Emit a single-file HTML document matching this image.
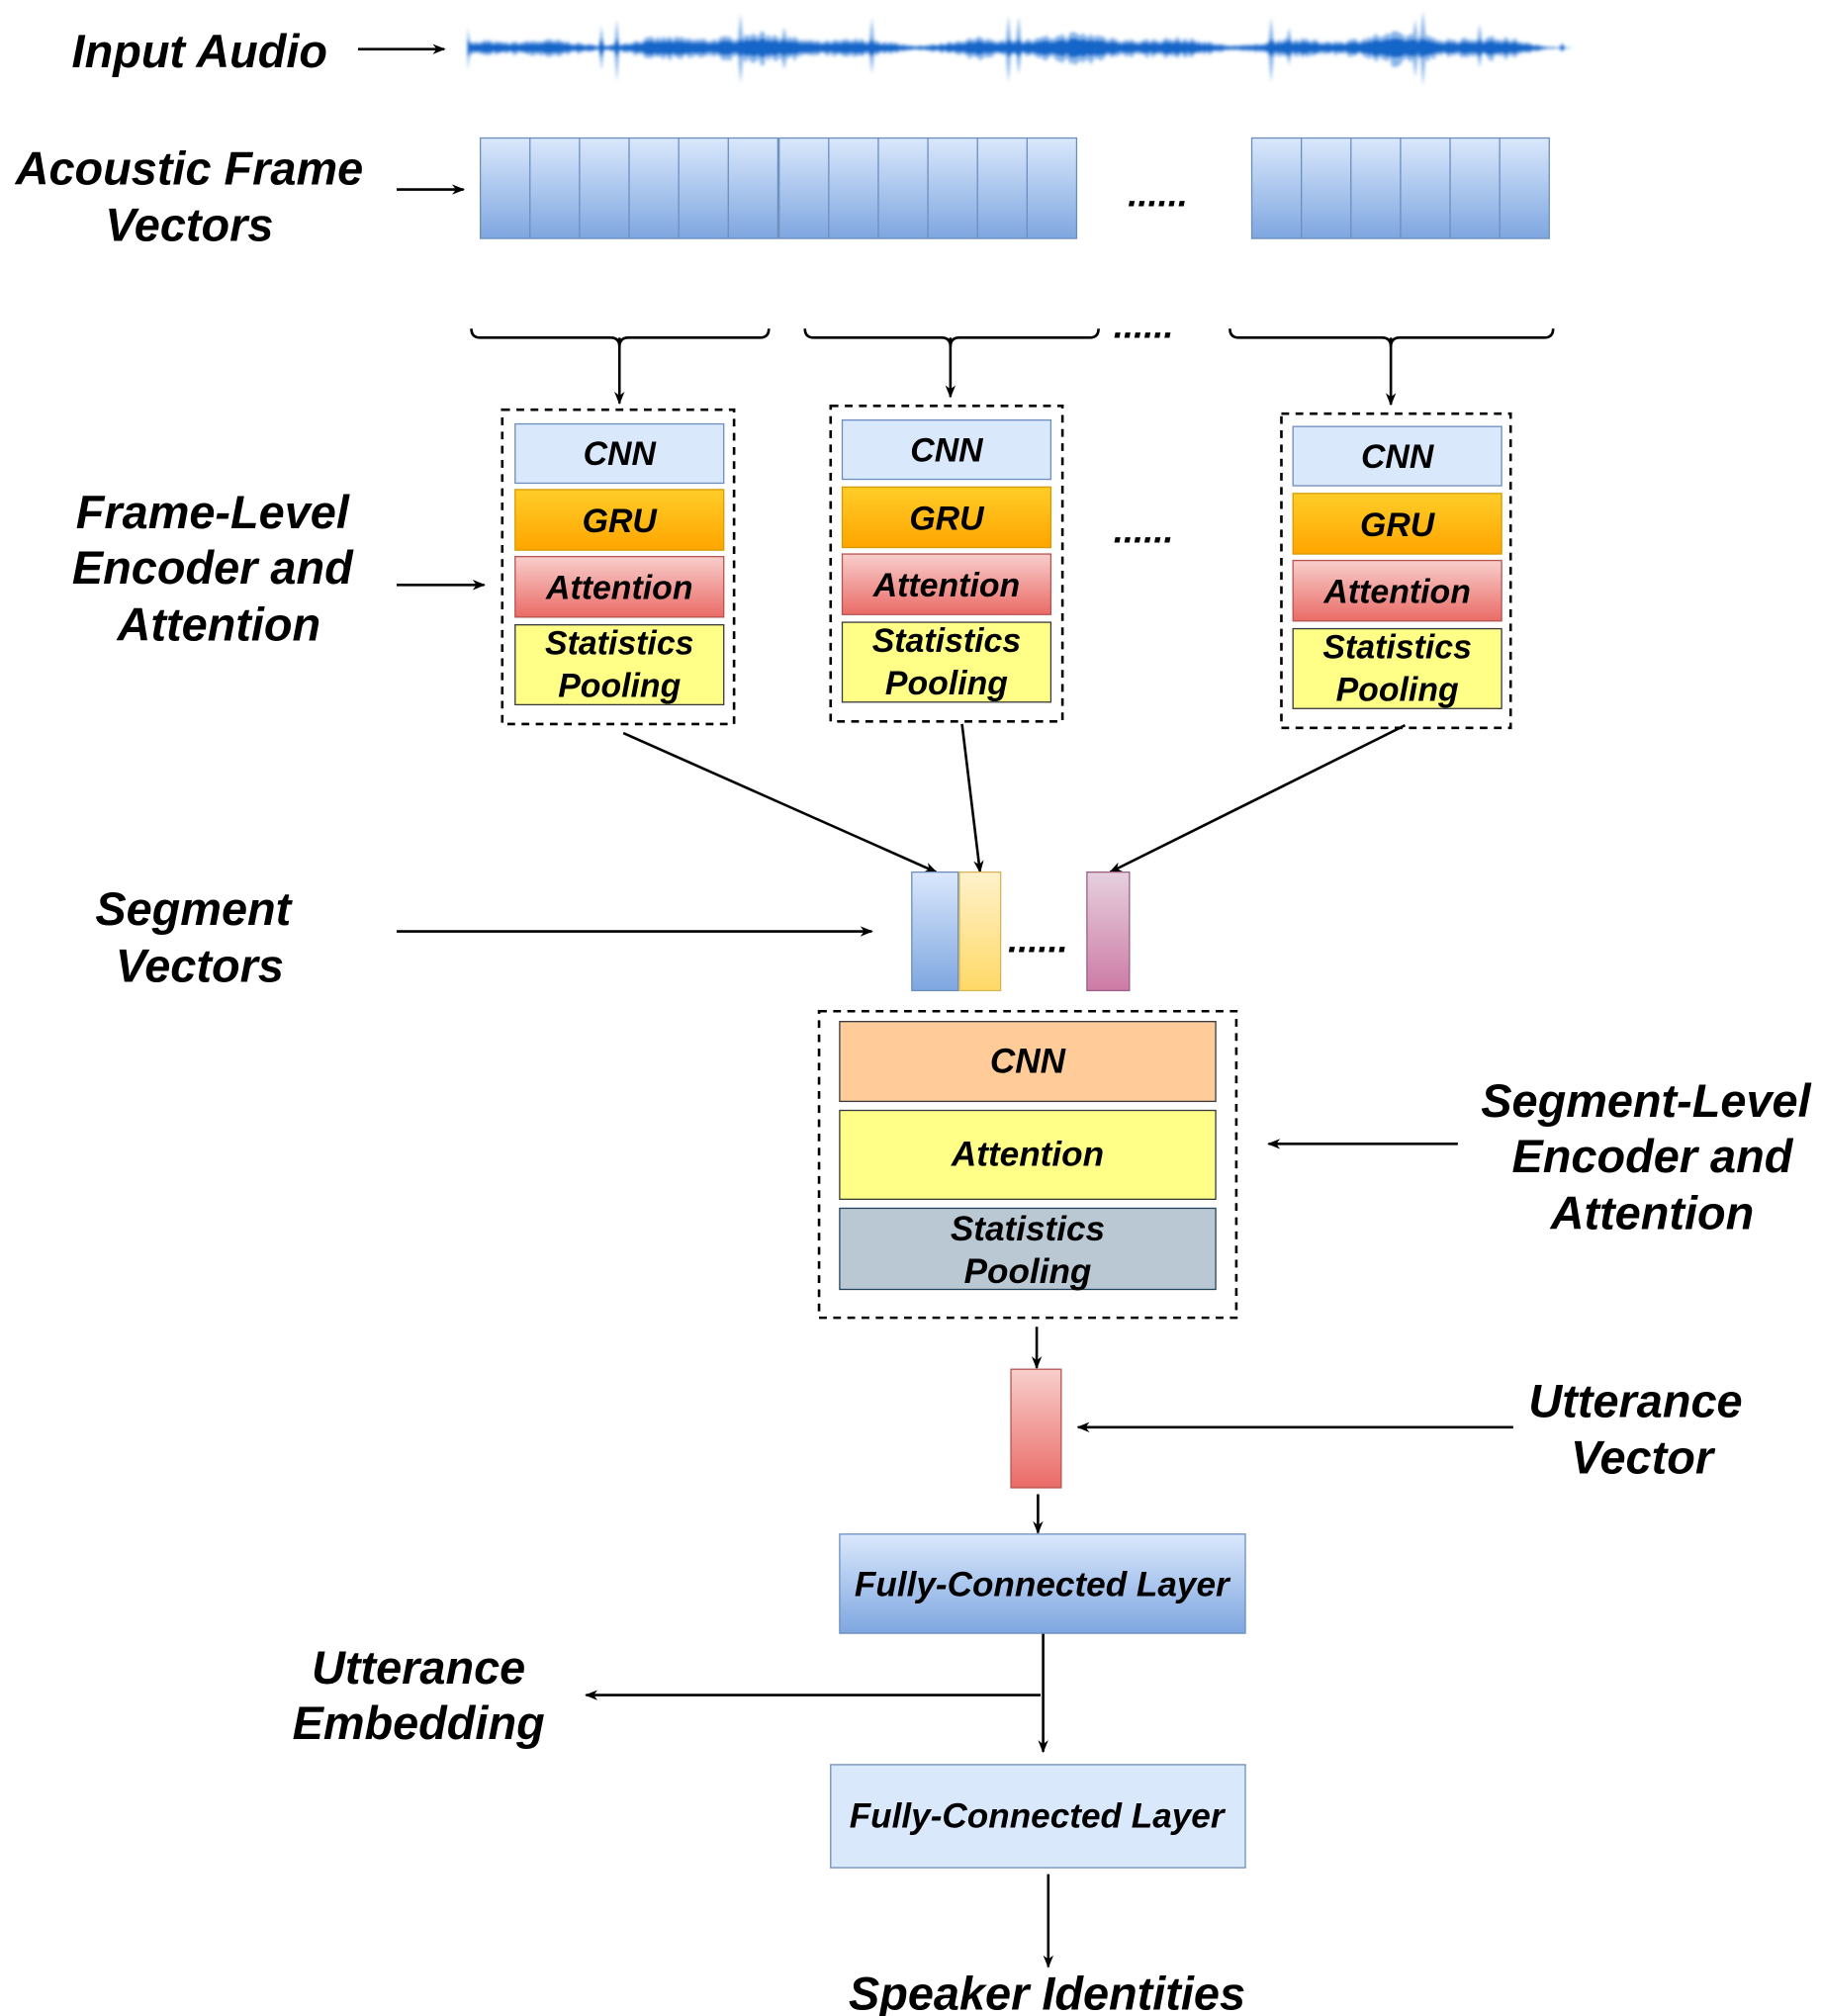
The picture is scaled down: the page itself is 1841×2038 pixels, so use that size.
<!DOCTYPE html>
<html><head><meta charset="utf-8">
<style>
html,body{margin:0;padding:0;background:#fff;}
svg{display:block}
text{font-family:"Liberation Sans",Arial,sans-serif;font-weight:bold;font-style:italic;fill:#000}
</style></head><body>
<svg id="s" width="1841" height="2038" viewBox="0 0 1414 1565" xmlns="http://www.w3.org/2000/svg">
<defs>
<linearGradient id="gb" x1="0" y1="0" x2="0" y2="1"><stop offset="0" stop-color="#dae8fc"/><stop offset="1" stop-color="#7ea6e0"/></linearGradient>
<linearGradient id="gy" x1="0" y1="0" x2="0" y2="1"><stop offset="0" stop-color="#ffcd28"/><stop offset="1" stop-color="#ffa500"/></linearGradient>
<linearGradient id="gr" x1="0" y1="0" x2="0" y2="1"><stop offset="0" stop-color="#f8cecc"/><stop offset="1" stop-color="#ea6b66"/></linearGradient>
<linearGradient id="gl" x1="0" y1="0" x2="0" y2="1"><stop offset="0" stop-color="#fff2cc"/><stop offset="1" stop-color="#ffd966"/></linearGradient>
<linearGradient id="gp" x1="0" y1="0" x2="0" y2="1"><stop offset="0" stop-color="#e6d0de"/><stop offset="1" stop-color="#cd7ba5"/></linearGradient>
<marker id="a" markerWidth="10" markerHeight="10" refX="9" refY="5" orient="auto" markerUnits="userSpaceOnUse"><path d="M0,1 L10,5 L0,9 L3,5z" fill="#000"/></marker>
<filter id="bl"><feGaussianBlur stdDeviation="1.2"/></filter>
</defs>
<g id="wave" filter="url(#bl)"></g>

<g font-size="36">
<text x="155" y="52" text-anchor="middle">Input Audio</text>
<text x="147" y="143" text-anchor="middle">Acoustic Frame</text>
<text x="147" y="187" text-anchor="middle">Vectors</text>
<text x="165" y="410" text-anchor="middle">Frame-Level</text>
<text x="165" y="453" text-anchor="middle">Encoder and</text>
<text x="170" y="497" text-anchor="middle">Attention</text>
<text x="150" y="718" text-anchor="middle">Segment</text>
<text x="155" y="762" text-anchor="middle">Vectors</text>
<text x="1278" y="867" text-anchor="middle">Segment-Level</text>
<text x="1283" y="910" text-anchor="middle">Encoder and</text>
<text x="1283" y="954" text-anchor="middle">Attention</text>
<text x="1270" y="1100" text-anchor="middle">Utterance</text>
<text x="1275" y="1144" text-anchor="middle">Vector</text>
<text x="325" y="1307" text-anchor="middle">Utterance</text>
<text x="325" y="1350" text-anchor="middle">Embedding</text>
<text x="813" y="1560" text-anchor="middle">Speaker Identities</text>
</g>

<g stroke="#000" stroke-width="2" fill="none">
<line x1="278" y1="38" x2="345" y2="38" marker-end="url(#a)"/>
<line x1="308" y1="147" x2="360" y2="147" marker-end="url(#a)"/>
<line x1="308" y1="454" x2="376" y2="454" marker-end="url(#a)"/>
<line x1="308" y1="723" x2="677" y2="723" marker-end="url(#a)"/>
<line x1="1132" y1="888" x2="985" y2="888" marker-end="url(#a)"/>
<line x1="1175" y1="1108" x2="837" y2="1108" marker-end="url(#a)"/>
<line x1="484" y1="569" x2="727" y2="677" marker-end="url(#a)"/>
<line x1="747" y1="562" x2="761" y2="677" marker-end="url(#a)"/>
<line x1="1091" y1="563" x2="862" y2="677" marker-end="url(#a)"/>
<line x1="805" y1="1030" x2="805" y2="1062" marker-end="url(#a)"/>
<line x1="806" y1="1160" x2="806" y2="1190" marker-end="url(#a)"/>
<line x1="810" y1="1268" x2="810" y2="1360" marker-end="url(#a)"/>
<line x1="808" y1="1316" x2="455" y2="1316" marker-end="url(#a)"/>
<line x1="814" y1="1455" x2="814" y2="1527" marker-end="url(#a)"/>
<path d="M366,255 Q366,262 373,262 L474,262 Q481,262 481,269 Q481,262 488,262 L590,262 Q597,262 597,255"/>
<line x1="481" y1="262" x2="481" y2="313" marker-end="url(#a)"/>
<path d="M625,255 Q625,262 632,262 L731,262 Q738,262 738,269 Q738,262 745,262 L846,262 Q853,262 853,255"/>
<line x1="738" y1="262" x2="738" y2="308" marker-end="url(#a)"/>
<path d="M955,255 Q955,262 962,262 L1073,262 Q1080,262 1080,269 Q1080,262 1087,262 L1199,262 Q1206,262 1206,255"/>
<line x1="1080" y1="262" x2="1080" y2="314" marker-end="url(#a)"/>
<g stroke-dasharray="6,5">
<rect x="390" y="318" width="180" height="244"/>
<rect x="645" y="315" width="180" height="245"/>
<rect x="995" y="321" width="178" height="244"/>
<rect x="636" y="785" width="324" height="238"/>
</g>
</g>

<g font-size="28" fill="#000">
<text x="899" y="160" text-anchor="middle">......</text>
<text x="888" y="262" text-anchor="middle">......</text>
<text x="888" y="421" text-anchor="middle">......</text>
<text x="806" y="739" text-anchor="middle">......</text>
</g>

<g id="frames" stroke="#6c8ebf" stroke-width="1"></g>
<g id="enc" font-size="26"></g>

<rect x="708" y="677" width="36" height="92" fill="url(#gb)" stroke="#6c8ebf"/>
<rect x="745" y="677" width="32" height="92" fill="url(#gl)" stroke="#d6b656"/>
<rect x="844" y="677" width="33" height="92" fill="url(#gp)" stroke="#996185"/>

<g font-size="27">
<rect x="652" y="793" width="292" height="62" fill="#ffcc99" stroke="#36393d"/>
<text x="798" y="833" text-anchor="middle">CNN</text>
<rect x="652" y="862" width="292" height="69" fill="#ffff88" stroke="#36393d"/>
<text x="798" y="905" text-anchor="middle">Attention</text>
<rect x="652" y="938" width="292" height="63" fill="#bac8d3" stroke="#23445d"/>
<text x="798" y="963" text-anchor="middle">Statistics</text>
<text x="798" y="996" text-anchor="middle">Pooling</text>
</g>

<rect x="785" y="1063" width="39" height="92" fill="url(#gr)" stroke="#b85450"/>

<g font-size="27">
<rect x="652" y="1191" width="315" height="77" fill="url(#gb)" stroke="#6c8ebf"/>
<text x="809" y="1239" text-anchor="middle">Fully-Connected Layer</text>
<rect x="645" y="1370" width="322" height="80" fill="#dae8fc" stroke="#6c8ebf"/>
<text x="805" y="1419" text-anchor="middle">Fully-Connected Layer</text>
</g>

<script>
var NS="http://www.w3.org/2000/svg";
function el(p,t,a,txt){var e=document.createElementNS(NS,t);for(var k in a)e.setAttribute(k,a[k]);if(txt)e.textContent=txt;p.appendChild(e);return e;}
var fr=document.getElementById('frames');
[[373,6],[605,6],[972,6]].forEach(function(g){
  el(fr,'rect',{x:g[0],y:107,width:231,height:78,fill:'url(#gb)'});
  for(var i=1;i<6;i++)el(fr,'line',{x1:g[0]+i*38.5,y1:107,x2:g[0]+i*38.5,y2:185});
});
var enc=document.getElementById('enc');
[[400,329,380,432,485],[654,326,378,430,483],[1004,331,383,435,488]].forEach(function(b){
  var x=b[0],w=162,cx=x+81;
  el(enc,'rect',{x:x,y:b[1],width:w,height:46,fill:'#dae8fc',stroke:'#6c8ebf'});
  el(enc,'text',{x:cx,y:b[1]+32,'text-anchor':'middle'},'CNN');
  el(enc,'rect',{x:x,y:b[2],width:w,height:47,fill:'url(#gy)',stroke:'#d79b00'});
  el(enc,'text',{x:cx,y:b[2]+33,'text-anchor':'middle'},'GRU');
  el(enc,'rect',{x:x,y:b[3],width:w,height:47,fill:'url(#gr)',stroke:'#b85450'});
  el(enc,'text',{x:cx,y:b[3]+33,'text-anchor':'middle'},'Attention');
  el(enc,'rect',{x:x,y:b[4],width:w,height:62,fill:'#ffff88',stroke:'#36393d'});
  el(enc,'text',{x:cx,y:b[4]+23,'text-anchor':'middle'},'Statistics');
  el(enc,'text',{x:cx,y:b[4]+56,'text-anchor':'middle'},'Pooling');
});
var w=document.getElementById('wave');
var seed=7;function r(){seed=(seed*16807)%2147483647;return seed/2147483647;}
var pts=[];
for(var x=363;x<=1222;x+=2){
  var env=7+3*Math.sin(x/41)+2*Math.sin(x/13);
  var spike=(r()<0.025)?8+r()*12:0;
  var tail=x>1180?(1222-x)/42:1;
  var head=x<375?0.6:1;
  pts.push([x,(env*(0.6+r()*0.5)+spike)*tail*head]);
}
var d='M363,37';
pts.forEach(function(p){d+=' L'+p[0]+','+(37-p[1]);});
for(var i=pts.length-1;i>=0;i--){d+=' L'+pts[i][0]+','+(37+pts[i][1]*(0.8+r()*0.4));}
el(w,'path',{d:d+'Z',fill:'#3a86dc',opacity:'0.6'});
var d2='M363,37';pts.forEach(function(p){d2+=' L'+p[0]+','+(37-Math.min(p[1],12)*0.6);});
for(var i=pts.length-1;i>=0;i--){d2+=' L'+pts[i][0]+','+(37+Math.min(pts[i][1],12)*0.6);}
el(w,'path',{d:d2+'Z',fill:'#1565c8'});
</script>
</svg>
</body></html>
